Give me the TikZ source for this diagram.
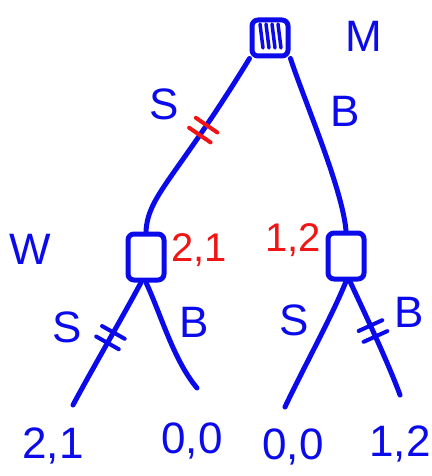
\documentclass[tikz,border=0pt]{standalone}
\usepackage{fontspec}
\setmainfont{Liberation Sans}
\usetikzlibrary{positioning,decorations.markings}
\definecolor{ink}{RGB}{10,10,235}
\definecolor{redink}{RGB}{240,20,20}

\tikzset{
  pen/.style={draw=ink, line width=5pt, line cap=round, line join=round},
  choice/.style={pen, rectangle, rounded corners=6pt, minimum width=36pt, minimum height=46pt, inner sep=0pt},
  lbl/.style={text=ink, font=\fontsize{44}{44}\selectfont, inner sep=0pt},
  pay/.style={lbl, text=redink, font=\fontsize{40}{40}\selectfont},
  cut/.style 2 args={postaction={decorate}, decoration={markings,
      mark=at position #1 with {
        \draw[line width=4pt, line cap=round, draw=#2] (-6pt,-13pt) -- (-6pt,13pt) (6pt,-13pt) -- (6pt,13pt);
      }}},
  hatch/.style={path picture={
      \foreach \d in {-10,-4,2,8}
        \draw[draw=ink, line width=3.5pt] ([xshift=\d pt, yshift=-4pt]path picture bounding box.north) -- ++(3pt,-24pt);
    }}
}

\begin{document}
\begin{tikzpicture}[x=1pt, y=-1pt]
\useasboundingbox (0,0) rectangle (431,476);

% players
\node[choice, hatch, minimum height=36pt] (man) at (270,38) {};
\node[choice] (womS) at (146,257) {};
\node[choice] (womB) at (346,256) {};
\node[lbl] (manlbl) at (364,36) {M};
\node[lbl] (womlbl) at (30,249) {W};

% payoffs of the subgames
\node[pay] (payS) at (199,250) {2,1};
\node[pay] (payB) at (293,240) {1,2};

% leaves
\node[lbl] (leaf1) at (53,446) {2,1};
\node[lbl] (leaf2) at (192,441) {0,0};
\node[lbl] (leaf3) at (293,447) {0,0};
\node[lbl] (leaf4) at (400,444) {1,2};
\coordinate (end1) at (73,405);
\coordinate (end2) at (197,388);
\coordinate (end3) at (285,407);
\coordinate (end4) at (400,395);

% first move
\draw[pen, cut={0.42}{redink}] (man.south west) .. controls (175,180) and (148,195) .. (womS.north);
\draw[pen] (man.south east) to[out=-72, in=95, looseness=0.6] (womB.north);
\node[lbl] (s0) at (164,104) {S};
\node[lbl] (b0) at (345,111) {B};

% second move
\draw[pen, cut={0.45}{ink}] ([xshift=-5pt]womS.south) to[out=-118, in=62, looseness=0.7] (end1);
\draw[pen] (womS.south) to[out=-65, in=130, looseness=0.8] (end2);
\draw[pen] (womB.south) to[out=-112, in=65, looseness=0.7] (end3);
\draw[pen, cut={0.44}{ink}] ([xshift=4pt]womB.south) to[out=-65, in=110, looseness=0.7] (end4);
\node[lbl] (s1) at (67,327) {S};
\node[lbl] (b1) at (194,322) {B};
\node[lbl] (s2) at (294,320) {S};
\node[lbl] (b2) at (409,312) {B};
\end{tikzpicture}
\end{document}
